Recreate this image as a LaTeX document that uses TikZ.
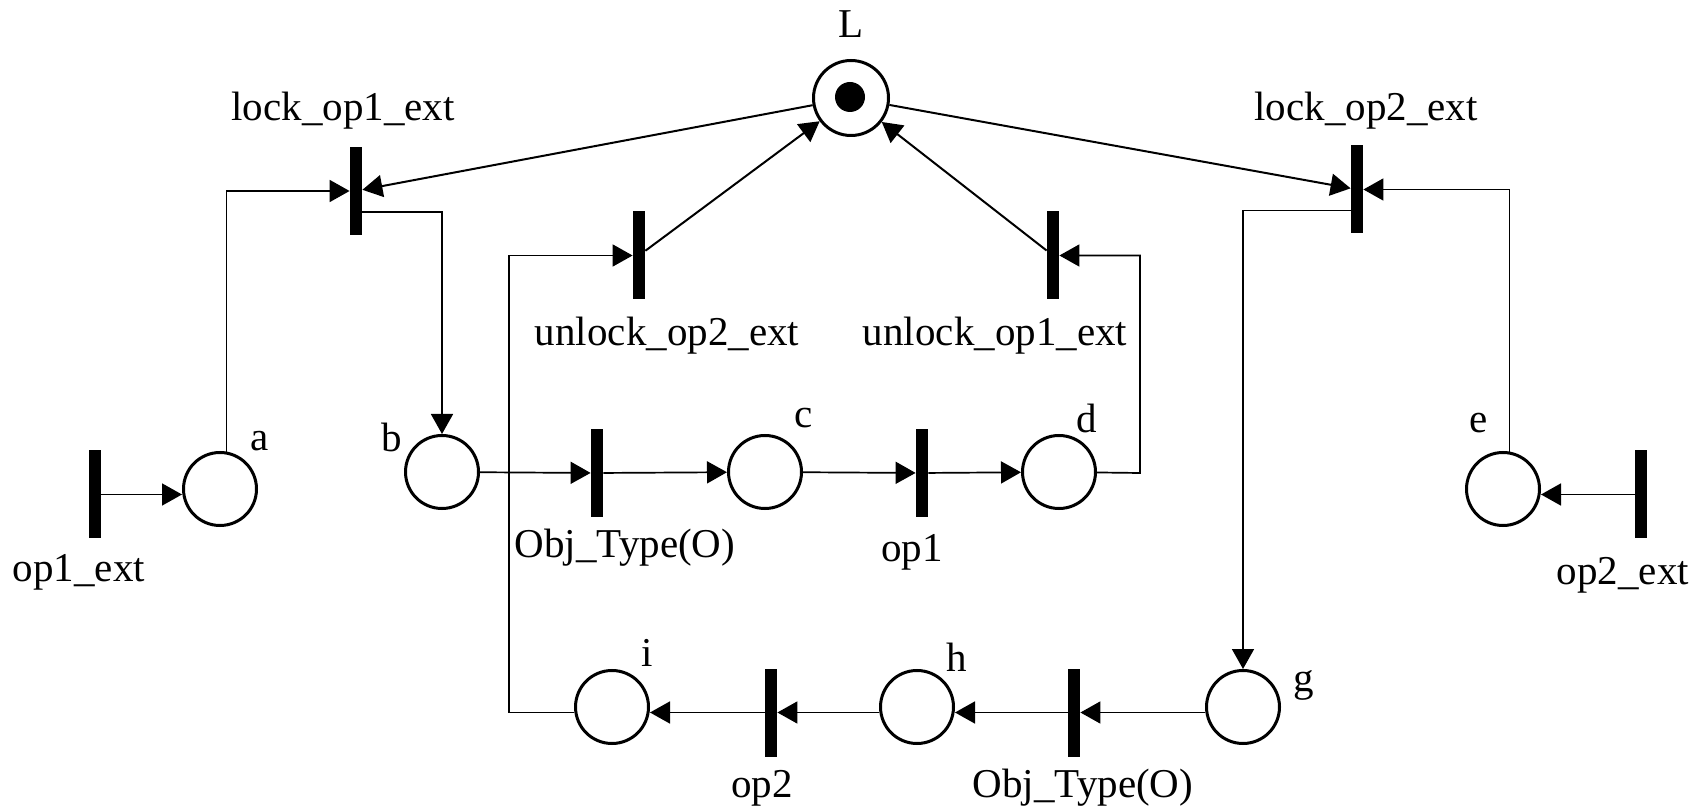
\documentclass[tikz,border=0pt]{standalone}
\usepackage{fontspec}
\setmainfont{Liberation Serif}
\usetikzlibrary{arrows.meta}
\begin{document}
\begin{tikzpicture}[x=0.5pt,y=-0.5pt,
  place/.style={circle,draw,line width=1.5pt,minimum size=36.5pt,inner sep=0pt},
  trans/.style={rectangle,fill=black,minimum width=6pt,minimum height=44pt,inner sep=0pt},
  token/.style={circle,fill=black,minimum size=15pt,inner sep=0pt},
  lab/.style={inner sep=0pt,font=\fontsize{20.5}{24}\selectfont},
  arc/.style={line width=0.85pt,-{Triangle[length=10pt,width=11pt]}},
  larc/.style={arc,line width=1pt}
]
\fill[white] (0,0) rectangle (1704,812);
\useasboundingbox (0,0) rectangle (1704,812);

% places
\node[place,minimum size=37.5pt] (L) at (851,98) {};
\node[token] (tok) at (850,97) {};
\node[place] (a) at (220,489) {};
\node[place] (b) at (442,472) {};
\node[place] (c) at (765,472) {};
\node[place] (d) at (1059,472) {};
\node[place] (e) at (1503,489) {};
\node[place] (g) at (1243,707) {};
\node[place] (h) at (917,707) {};
\node[place] (i) at (612,707) {};

% transitions
\node[trans] (op1ext) at (95,494.5) {};
\node[trans] (lockA) at (356,191) {};
\node[trans] (unlockB) at (639,255.5) {};
\node[trans] (unlockA) at (1053,255.5) {};
\node[trans] (lockB) at (1357,189.5) {};
\node[trans] (objA) at (597,473) {};
\node[trans] (opA) at (922,473) {};
\node[trans] (op2ext) at (1641,494.5) {};
\node[trans] (objB) at (1074,712.5) {};
\node[trans] (opB) at (771,712.5) {};

% turning points
\coordinate (dturn) at (1140,473);
\coordinate (iturn) at (509,712.5);

% labels
\node[lab] (lL) at (851,24) {L};
\node[lab] (llockA) at (343,111) {lock\_op1\_ext};
\node[lab] (llockB) at (1366,111) {lock\_op2\_ext};
\node[lab] (lunlockB) at (667,336) {unlock\_op2\_ext};
\node[lab] (lunlockA) at (995,336) {unlock\_op1\_ext};
\node[lab] (lop1ext) at (79,572) {op1\_ext};
\node[lab] (lobjA) at (625,548) {Obj\_Type(O)};
\node[lab] (lopA) at (912,552) {op1};
\node[lab] (lopB) at (762,788) {op2};
\node[lab] (lobjB) at (1083,788) {Obj\_Type(O)};
\node[lab] (lop2ext) at (1623,575) {op2\_ext};
\node[lab] (la) at (260,441) {a};
\node[lab] (lb) at (392,437) {b};
\node[lab] (lc) at (804,418) {c};
\node[lab] (ld) at (1087,418) {d};
\node[lab] (le) at (1479,423) {e};
\node[lab] (lg) at (1304,685) {g};
\node[lab] (lh) at (957,657) {h};
\node[lab] (li) at (647,653) {i};

% connectors
\draw[arc] (op1ext.east) -- (op1ext -| a.west);
\draw[arc] (a.80) |- (lockA.west);
\draw[larc] (L) -- (lockA);
\draw[arc] ([yshift=-10.5pt]lockA.east) -| (b.north);
\draw[arc] (b) -- (objA);
\draw[arc] (objA) -- (c);
\draw[arc] (c) -- (opA);
\draw[arc] (opA) -- (d);
\draw[arc] (d) -- (dturn) |- (unlockA);
\draw[larc] (unlockA) -- (L);
\draw[larc] (unlockB) -- (L);
\draw[larc] (L) -- (lockB);
\draw[arc] (e.80) |- (lockB.east);
\draw[arc] ([yshift=-10.5pt]lockB.west) -| (g.north);
\draw[arc] (op2ext.west) -- (op2ext -| e.east);
\draw[arc] (g.west |- objB) -- (objB.east);
\draw[arc] (objB.west) -- (objB -| h.east);
\draw[arc] (h.west |- opB) -- (opB.east);
\draw[arc] (opB.west) -- (opB -| i.east);
\draw[arc] (opB -| i.west) -- (iturn) |- (unlockB);
\end{tikzpicture}
\end{document}
